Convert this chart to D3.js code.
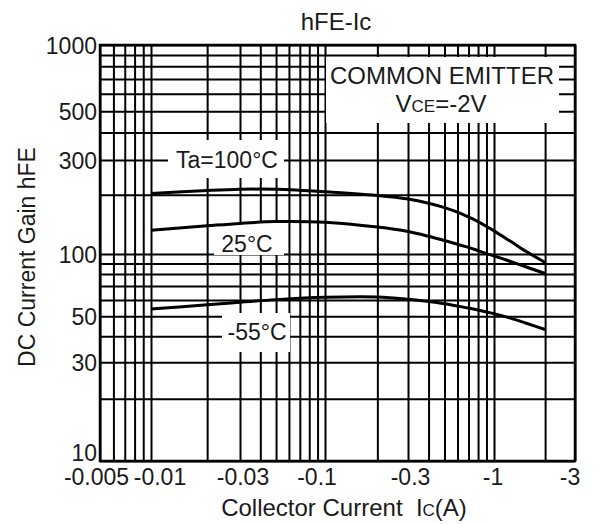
<!DOCTYPE html>
<html><head><meta charset="utf-8">
<script src="https://cdn.jsdelivr.net/npm/d3@7"></script>
<style>
html,body{margin:0;padding:0;background:#fff;}
svg text{font-family:"Liberation Sans",Arial,sans-serif;fill:#1a1a1a;white-space:pre;}
</style></head><body>
<svg id="chart" width="601" height="524"></svg>
<script>
// ---- data ----
const icValues = [0.01,0.02,0.03,0.05,0.1,0.2,0.3,0.4,0.5,0.6,0.7,0.8,0.9,1.0,1.25,1.55,2.0];
const hfe100 = [203,210,213,213,207,198,190,181,172,163,154,146,138,131,116,103,91];
const hfe25  = [132,139,143,146,145,137,130,123,117,112,108,104,100.5,98,92,86.5,80.5];
const hfeM55 = [54.2,56.8,58.5,60.2,61.8,62,60.5,59,57.5,56,54.8,53.6,52.5,51.5,49,46.3,43.2];
const seriesNames = ["Ta=100°C","25°C","-55°C"];
const xTickValues = [0.005,0.01,0.03,0.1,0.3,1,3];
const xTickLabels = ["-0.005","-0.01","-0.03","-0.1","-0.3","-1","-3"];
const yTickValues = [10,30,50,100,300,500,1000];
const yTickLabels = ["10","30","50","100","300","500","1000"];
const xGridValues = [0.005,0.006,0.007,0.008,0.009,0.01,0.02,0.03,0.04,0.05,0.06,0.07,0.08,0.09,0.1,0.2,0.3,0.4,0.5,0.6,0.7,0.8,0.9,1,2,3];
const yGridValues = [10,20,30,40,50,60,70,80,90,100,200,300,400,500,600,700,800,900,1000];

// ---- layout ----
const L = 100, R = 575, T = 45, B = 461;
const svg = d3.select("#chart");

// the printed log grid is slightly uneven; knots at the labelled ticks
const x = d3.scaleLog().domain(xTickValues).range([100,151,240,325,408,494,575]);
const y = d3.scaleLog().domain([10,100,300,1000]).range([461,254,160,45]);

// grid
const gGrid = svg.append("g");
gGrid.append("g").attr("transform",`translate(0,${B})`)
  .call(d3.axisBottom(x).tickValues(xGridValues).tickSize(-(B-T)).tickFormat(""))
  .call(g=>g.select(".domain").remove())
  .call(g=>g.selectAll("line").attr("stroke","#000").attr("stroke-width",2));
gGrid.append("g").attr("transform",`translate(${L},0)`)
  .call(d3.axisLeft(y).tickValues(yGridValues).tickSize(-(R-L)).tickFormat(""))
  .call(g=>g.select(".domain").remove())
  .call(g=>g.selectAll("line").attr("stroke","#000").attr("stroke-width",2));

// white label boxes interrupting the grid
const boxes = [
  [168,140,284,178],
  [214,222,284,255],
  [222,313,290,352],
  [326,57,559,123]
];
svg.append("g").selectAll("rect").data(boxes).join("rect")
  .attr("x",d=>d[0]).attr("y",d=>d[1]).attr("width",d=>d[2]-d[0]).attr("height",d=>d[3]-d[1])
  .attr("fill","#fff");

// frame
svg.append("rect").attr("x",L).attr("y",T).attr("width",R-L).attr("height",B-T)
  .attr("fill","none").attr("stroke","#000").attr("stroke-width",2.5);

// curves
const series = [hfe100, hfe25, hfeM55];
const line = d3.line().x((d,i)=>x(icValues[i])).y(d=>y(d)).curve(d3.curveCatmullRom.alpha(0.5));
svg.append("g").selectAll("path").data(series).join("path")
  .attr("d",d=>line(d)).attr("fill","none").attr("stroke","#000").attr("stroke-width",3)
  .attr("stroke-linecap","butt");

// axis labels
const fs = 23;
const yAx = svg.append("g").attr("transform",`translate(${L-3},0)`)
  .call(d3.axisLeft(y).tickValues(yTickValues).tickSize(0).tickPadding(0)
    .tickFormat((d,i)=>yTickLabels[i]));
yAx.select(".domain").remove();
yAx.selectAll("text").attr("font-size",fs).attr("fill","#1a1a1a")
  .attr("font-family","Liberation Sans, Arial, sans-serif")
  .attr("dy",d=>d===10?"-0.02em":"0.35em");

const xNudge = [-4,8.5,2.5,-8.5,2,-1.5,-5.5];
const xAx = svg.append("g").attr("transform",`translate(0,${B})`)
  .call(d3.axisBottom(x).tickValues(xTickValues).tickSize(0).tickPadding(0)
    .tickFormat((d,i)=>xTickLabels[i]));
xAx.select(".domain").remove();
xAx.selectAll("text").attr("font-size",fs).attr("fill","#1a1a1a")
  .attr("font-family","Liberation Sans, Arial, sans-serif")
  .attr("dy","1.03em")
  .attr("dx",(d,i)=>xNudge[i]);

// titles
svg.append("text").attr("x",336).attr("y",30).attr("text-anchor","middle")
  .attr("font-size",24).text("hFE-Ic");
const xt = svg.append("text").attr("x",344).attr("y",516).attr("text-anchor","middle").attr("font-size",24);
xt.append("tspan").text("Collector Current  I");
xt.append("tspan").attr("font-size",17).text("C");
xt.append("tspan").text("(A)");
svg.append("text").attr("transform","translate(35,257) rotate(-90)").attr("text-anchor","middle")
  .attr("font-size",fs).text("DC Current Gain hFE");

// condition box text
svg.append("text").attr("x",442).attr("y",84).attr("text-anchor","middle").attr("font-size",24).text("COMMON EMITTER");
const vt = svg.append("text").attr("x",441).attr("y",112).attr("text-anchor","middle").attr("font-size",24);
vt.append("tspan").text("V");
vt.append("tspan").attr("font-size",17).text("CE");
vt.append("tspan").text("=-2V");

// series labels
const labelPos = [[227,168],[247,252],[257,340]];
svg.append("g").selectAll("text").data(seriesNames).join("text")
  .attr("x",(d,i)=>labelPos[i][0]).attr("y",(d,i)=>labelPos[i][1])
  .attr("text-anchor","middle").attr("font-size",fs).text(d=>d);
</script>
</body></html>
